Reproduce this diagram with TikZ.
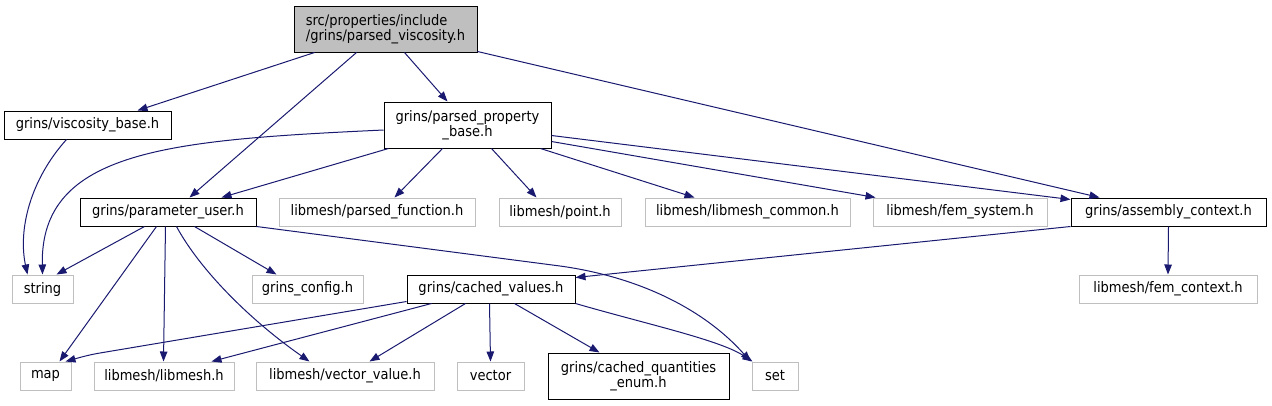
\documentclass[tikz,border=0pt]{standalone}
\usepackage{fontspec}
\setmainfont{DejaVu Sans Condensed}
\usetikzlibrary{arrows.meta}
\definecolor{edgec}{HTML}{191970}
\definecolor{grayb}{HTML}{BFBFBF}
\tikzset{
 box/.style={draw, line width=1pt, inner sep=0pt, minimum height=28pt, align=center, font=\fontsize{14.5}{15.5}\selectfont},
 gbox/.style={box, draw=grayb},
 kbox/.style={box, draw=black},
 edge/.style={draw=edgec, line width=1pt, -{Triangle[length=10pt,width=7.5pt]}},
}
\begin{document}
\begin{tikzpicture}[x=1pt,y=-1pt]
\useasboundingbox (0,0) rectangle (1272,405);
% row 1
\node[kbox, fill=grayb, minimum width=183pt, minimum height=46pt, align=left] (main) at (385.5,29) {src/properties/include\\/grins/parsed\_viscosity.h};
% row 2
\node[kbox, minimum width=167pt] (vb) at (87.5,125) {grins/viscosity\_base.h};
\node[kbox, minimum width=167pt, minimum height=46pt] (ppb) at (467.5,125) {grins/parsed\_property\\\_base.h};
% row 3
\node[kbox, minimum width=176pt] (pu) at (168,212) {grins/parameter\_user.h};
\node[gbox, minimum width=196pt] (pf) at (377,212) {libmesh/parsed\_function.h};
\node[gbox, minimum width=122pt] (pt) at (560,212) {libmesh/point.h};
\node[gbox, minimum width=205pt] (lc) at (747.5,212) {libmesh/libmesh\_common.h};
\node[gbox, minimum width=174pt] (fs) at (960,212) {libmesh/fem\_system.h};
\node[kbox, minimum width=195pt] (ac) at (1168.5,212) {grins/assembly\_context.h};
% row 4
\node[gbox, minimum width=61pt] (str) at (42.5,289) {string};
\node[gbox, minimum width=111pt] (gc) at (307.5,289) {grins\_config.h};
\node[kbox, minimum width=168pt] (cv) at (491,289) {grins/cached\_values.h};
\node[gbox, minimum width=178pt] (fc) at (1168,289) {libmesh/fem\_context.h};
% row 5
\node[gbox, minimum width=51pt] (map) at (45.5,376) {map};
\node[gbox, minimum width=140pt] (lm) at (164,376) {libmesh/libmesh.h};
\node[gbox, minimum width=178pt] (vv) at (345,376) {libmesh/vector\_value.h};
\node[gbox, minimum width=67pt] (vec) at (490.5,376) {vector};
\node[kbox, minimum width=181pt, minimum height=46pt] (cqe) at (638.5,376) {grins/cached\_quantities\\\_enum.h};
\node[gbox, minimum width=46pt] (set) at (775,376) {set};
% edges from main
\draw[edge] ([xshift=21pt]main.south west) -- ([xshift=134pt]vb.north west);
\draw[edge] ([xshift=63pt]main.south west) -- ([xshift=110pt]pu.north west);
\draw[edge] ([xshift=111pt]main.south west) -- ([xshift=64pt]ppb.north west);
\draw[edge] ([yshift=1pt]main.south east) -- ([xshift=29pt]ac.north west);
% viscosity_base
\draw[edge] ([xshift=63pt]vb.south west) .. controls (30,180) and (18,230) .. ([xshift=16pt]str.north west);
% parsed_property_base
\draw[edge] ([yshift=-5pt]ppb.west) .. controls (170,140) and (40,150) .. ([xshift=31pt]str.north west);
\draw[edge] ([xshift=5pt]ppb.south west) -- ([xshift=142pt]pu.north west);
\draw[edge] ([xshift=59pt]ppb.south west) -- ([xshift=116pt]pf.north west);
\draw[edge] ([xshift=108pt]ppb.south west) -- ([xshift=38pt]pt.north west);
\draw[edge] ([xshift=157pt]ppb.south west) -- ([xshift=50pt]lc.north west);
\draw[edge] ([yshift=7pt]ppb.south east) -- ([xshift=3pt]fs.north west);
\draw[edge] ([yshift=13pt]ppb.south east) -- ([yshift=-2pt]ac.north west);
% parameter_user
\draw[edge] ([xshift=65pt]pu.south west) -- ([xshift=45pt]str.north west);
\draw[edge] ([xshift=77pt]pu.south west) -- ([xshift=40pt]map.north west);
\draw[edge] ([xshift=86pt]pu.south west) -- ([xshift=70pt]lm.north west);
\draw[edge] ([xshift=97pt]pu.south west) .. controls (200,270) and (250,320) .. ([xshift=54pt]vv.north west);
\draw[edge] ([xshift=115pt]pu.south west) -- ([xshift=25pt]gc.north west);
\draw[edge] (pu.south east) -- (560,266) .. controls (640,277) and (705,310) .. ([xshift=-1pt]set.north west);
% assembly_context
\draw[edge] (ac.south west) -- ([yshift=-3pt]cv.north east);
\draw[edge] (ac.south) -- (fc.north);
% cached_values
\draw[edge] ([yshift=2pt]cv.south west) -- (100,353) .. controls (88,355) and (78,358) .. ([xshift=-6pt]map.north east);
\draw[edge] ([xshift=25pt]cv.south west) -- ([xshift=118pt]lm.north west);
\draw[edge] ([xshift=59pt]cv.south west) -- ([xshift=114pt]vv.north west);
\draw[edge] ([xshift=83pt]cv.south west) -- (vec.north);
\draw[edge] ([xshift=108pt]cv.south west) -- ([xshift=52pt]cqe.north west);
\draw[edge] (cv.south east) .. controls (650,325) and (720,340) .. ([xshift=1pt]set.north west);
\end{tikzpicture}
\end{document}
